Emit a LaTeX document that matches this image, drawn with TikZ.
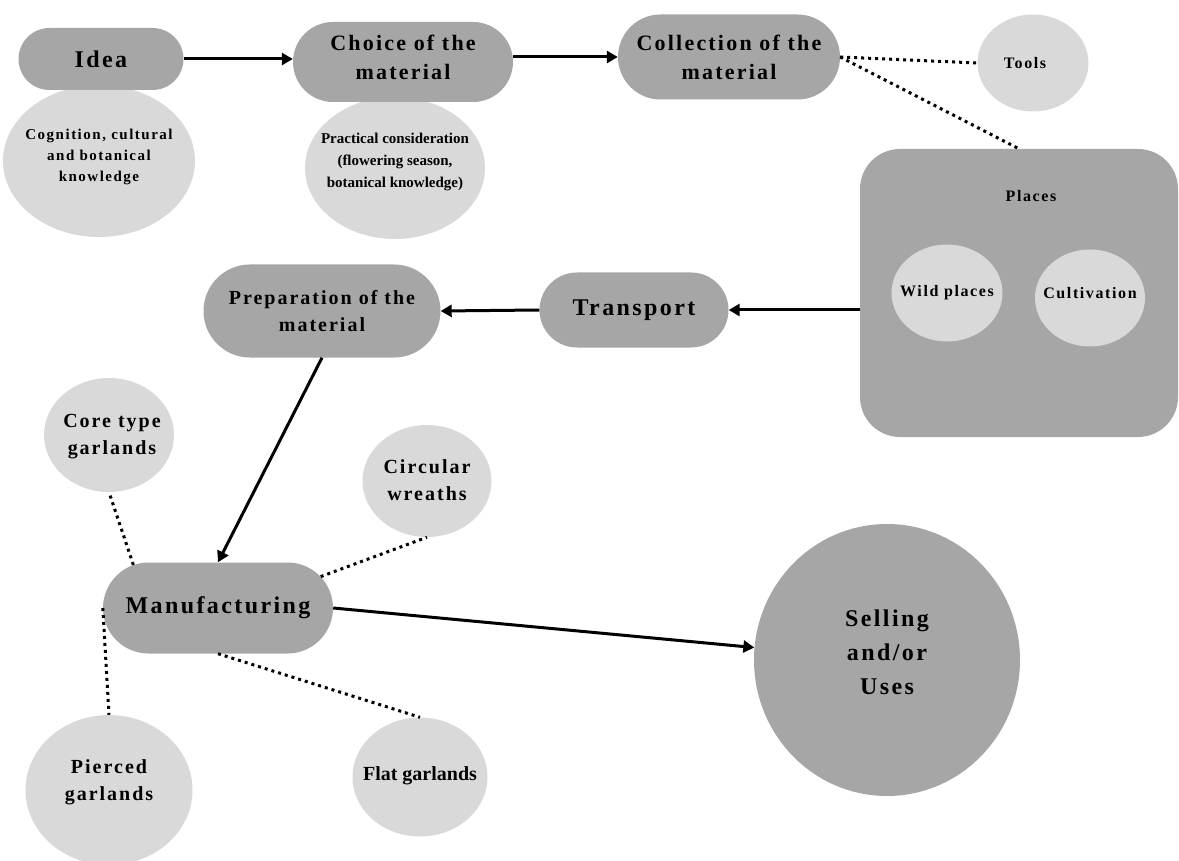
\documentclass[tikz,border=0pt]{standalone}
\usepackage{fontspec}
\setmainfont{Liberation Serif}
\newfontfamily\wide[LetterSpace=10]{Liberation Serif}
\usepackage{tikz}
\usetikzlibrary{shapes.geometric,shapes.misc}
\usetikzlibrary{arrows.meta}
\definecolor{blobdark}{HTML}{A6A6A6}
\definecolor{blobpale}{HTML}{D9D9D9}

\begin{document}
\begin{tikzpicture}[x=1pt,y=-1pt,
	darkblob/.style={rounded rectangle,fill=blobdark,inner sep=0pt},
	paleblob/.style={ellipse,fill=blobpale,inner sep=0pt},
	hugetext/.style={font=\wide\bfseries\fontsize{24}{34}\selectfont,align=center,inner sep=0pt},
	bigtext/.style={font=\wide\bfseries\fontsize{22}{29}\selectfont,align=center,inner sep=0pt},
	midtext/.style={font=\wide\bfseries\fontsize{20}{27}\selectfont,align=center,inner sep=0pt},
	smalltext/.style={font=\wide\bfseries\fontsize{16}{21}\selectfont,align=center,inner sep=0pt},
	tinytext/.style={font=\wide\bfseries\fontsize{15}{21}\selectfont,align=center,inner sep=0pt},
	flow/.style={-{Triangle[length=11pt,width=12pt]},line width=3pt},
	dotline/.style={line width=3pt,dash pattern=on 3pt off 4pt}]
			\useasboundingbox (0,0) rectangle (1179,861);

			\node[paleblob,minimum width=192,minimum height=152] (cognition) at (99,161) {};
			\node[paleblob,minimum width=180,minimum height=142] (practical) at (395,168) {};
			\node[darkblob,minimum width=165,minimum height=62] (idea) at (101,59) {};
			\node[darkblob,minimum width=220,minimum height=80] (choice) at (403,62) {};
			\node[darkblob,minimum width=222,minimum height=85] (collection) at (729,57) {};
			\node[paleblob,minimum width=111,minimum height=97] (tools) at (1033,63) {};
			\node[rectangle,rounded corners=40pt,fill=blobdark,minimum width=318,minimum height=288] (places) at (1019,293) {};
			\node[paleblob,minimum width=111,minimum height=97] (wild) at (947,293) {};
			\node[paleblob,minimum width=110,minimum height=97] (cultivation) at (1090,298) {};
			\node[darkblob,minimum width=189,minimum height=75] (transport) at (634,310) {};
			\node[darkblob,minimum width=237,minimum height=93] (preparation) at (322,311) {};
			\node[darkblob,minimum width=230,minimum height=91] (manufacturing) at (218,608) {};
			\node[paleblob,minimum width=130,minimum height=114] (core) at (109,435) {};
			\node[paleblob,minimum width=129,minimum height=112] (circular) at (427,481) {};
			\node[paleblob,minimum width=167,minimum height=150] (pierced) at (109,790) {};
			\node[paleblob,minimum width=135,minimum height=119] (flat) at (420,777) {};
			\node[ellipse,fill=blobdark,minimum width=266,minimum height=272] (selling) at (887,660) {};

			\node[tinytext] (cognitiontxt) at (99,157) {Cognition, cultural\\and botanical\\knowledge};
			\node[tinytext,font=\bfseries\fontsize{15}{22}\selectfont] (practicaltxt) at (395,162) {Practical consideration\\(flowering season,\\botanical knowledge)};
			\node[hugetext] (ideatxt) at (idea) {Idea};
			\node[bigtext] (choicetxt) at (403,57) {Choice of the\\material};
			\node[bigtext] (collectiontxt) at (collection) {Collection of the\\material};
			\node[smalltext] (toolstxt) at (1025,63) {Tools};
			\node[smalltext] (placestxt) at (1031,196) {Places};
			\node[smalltext] (wildtxt) at (wild) {Wild places};
			\node[smalltext] (cultivationtxt) at (1090,293) {Cultivation};
			\node[hugetext] (transporttxt) at (transport) {Transport};
			\node[midtext] (preparationtxt) at (preparation) {Preparation of the\\material};
			\node[hugetext] (manufacturingtxt) at (manufacturing) {Manufacturing};
			\node[midtext] (coretxt) at (112,437) {Core type\\garlands};
			\node[midtext] (circulartxt) at (427,480) {Circular\\wreaths};
			\node[midtext] (piercedtxt) at (109,782) {Pierced\\garlands};
			\node[midtext,font=\bfseries\fontsize{20}{27}\selectfont] (flattxt) at (420,776) {Flat garlands};
			\node[hugetext] (sellingtxt) at (887,652) {Selling\\and/or\\Uses};

			\draw[flow] (idea.east) -- (idea.east -| choice.west);
			\draw[flow] (collection.west -| choice.east) -- (collection.west);
			\draw[dotline] (collection.east) -- (tools.west);
			\draw[dotline] (collection.east) -- (places.north);
			\draw[flow] (places.west |- transport.east) -- (transport.east);
			\draw[flow] (transport.west) -- (preparation.east);
			\draw[flow] (preparation.south) -- (manufacturing.north);
			\draw[dotline] (manufacturing.153) -- (core.south);
			\draw[dotline] (manufacturing.17) -- (circular.south);
			\draw[dotline] (manufacturing.west) -- (pierced.north);
			\draw[dotline] (manufacturing.south) -- (flat.north);
			\draw[flow] (manufacturing.east) -- (selling);
		\end{tikzpicture}
\end{document}
